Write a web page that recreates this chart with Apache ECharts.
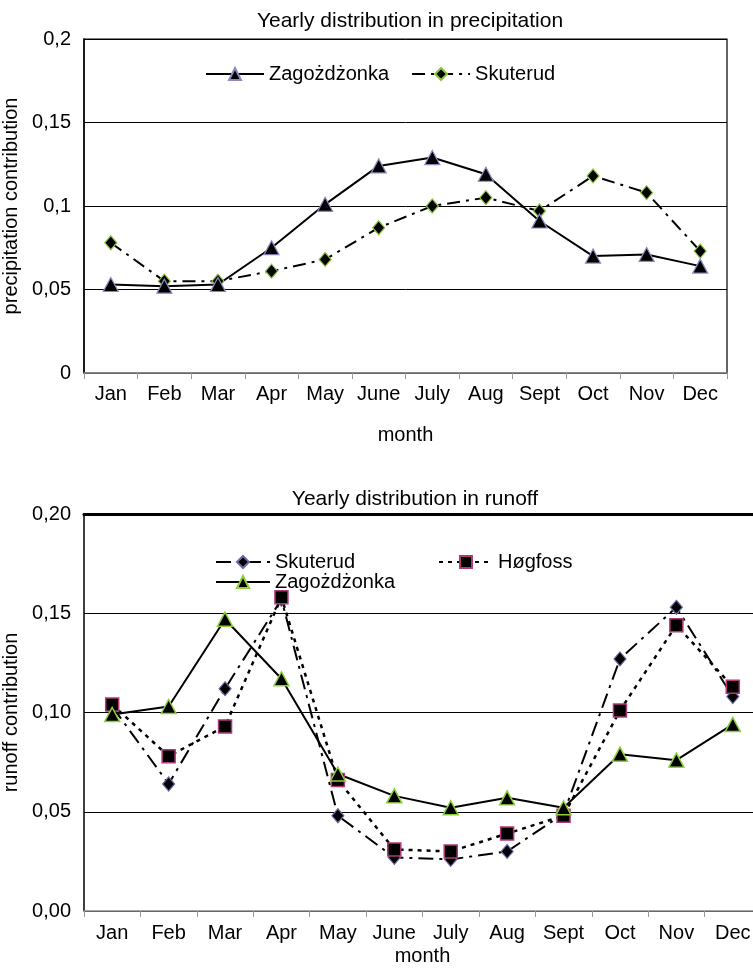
<!DOCTYPE html>
<html>
<head>
<meta charset="utf-8">
<script src="https://cdn.jsdelivr.net/npm/echarts@6/dist/echarts.min.js"></script>
<style>
  html, body { margin: 0; padding: 0; background: #fff; }
  #chart { width: 753px; height: 970px; }
</style>
</head>
<body>
<div id="chart"></div>
<script>
// Monthly shares of the yearly total
const months = ['Jan', 'Feb', 'Mar', 'Apr', 'May', 'June', 'July', 'Aug', 'Sept', 'Oct', 'Nov', 'Dec'];

// Precipitation contribution
const precipZagozdzonka = [0.053, 0.052, 0.053, 0.075, 0.101, 0.124, 0.129, 0.119, 0.091, 0.070, 0.071, 0.064];
const precipSkuterud    = [0.078, 0.055, 0.055, 0.061, 0.068, 0.087, 0.100, 0.105, 0.097, 0.118, 0.108, 0.073];

// Runoff contribution
const runoffSkuterud    = [0.103, 0.064, 0.112, 0.157, 0.048, 0.027, 0.026, 0.030, 0.049, 0.127, 0.153, 0.108];
const runoffHogfoss     = [0.104, 0.078, 0.093, 0.158, 0.066, 0.031, 0.030, 0.039, 0.048, 0.101, 0.144, 0.113];
const runoffZagozdzonka = [0.099, 0.103, 0.147, 0.117, 0.069, 0.058, 0.052, 0.057, 0.052, 0.079, 0.076, 0.094];

// Y tick labels (decimal comma)
const precipTicks = ['0', '0,05', '0,1', '0,15', '0,2'];
const runoffTicks = ['0,00', '0,05', '0,10', '0,15', '0,20'];

const FONT = 'Liberation Sans, Arial, sans-serif';
const FS = 20;
const txt = { fontFamily: FONT, fontSize: FS, color: '#000' };

function tickLabel(list) {
  return v => list[Math.round(v / 0.05)] ?? '';
}

const chart = echarts.init(document.getElementById('chart'), null, { renderer: 'canvas' });

const xBase = {
  type: 'category',
  data: months,
  boundaryGap: true,
  axisLine: { lineStyle: { color: '#8a8a8a', width: 1.5 } },
  axisTick: { show: true, alignWithLabel: false, length: 6, lineStyle: { color: '#9a9a9a' } },
  axisLabel: Object.assign({ margin: 11, interval: 0 }, txt),
  name: 'month',
  nameLocation: 'middle',
  nameTextStyle: txt
};

const yBase = {
  type: 'value',
  min: 0,
  max: 0.2,
  interval: 0.05,
  axisLine: { show: true, lineStyle: { color: '#000', width: 1.5 } },
  axisTick: { show: false },
  splitLine: { show: true, lineStyle: { color: '#000', width: 1 } },
  nameLocation: 'middle',
  nameRotate: 90,
  nameTextStyle: txt
};

const titleStyle = { fontFamily: FONT, fontSize: 21, fontWeight: 'normal', color: '#000' };

const option = {
  animation: false,
  backgroundColor: '#fff',
  title: [
    { text: 'Yearly distribution in precipitation', left: 405, top: 6, textAlign: 'center', textStyle: titleStyle },
    { text: 'Yearly distribution in runoff', left: 410, top: 484, textAlign: 'center', textStyle: titleStyle }
  ],
  legend: [
    { data: ['Zagożdżonka', 'Skuterud'], left: 200, top: 59, itemWidth: 58, itemHeight: 15, itemGap: 22,
      textStyle: txt, selectedMode: false },
    { data: ['Skuterud '], left: 210, top: 547, itemWidth: 54, itemHeight: 15, textStyle: txt, selectedMode: false },
    { data: ['Høgfoss'], left: 433, top: 547, itemWidth: 54, itemHeight: 15, textStyle: txt, selectedMode: false },
    { data: ['Zagożdżonka '], left: 210, top: 567, itemWidth: 54, itemHeight: 15, textStyle: txt, selectedMode: false }
  ],
  grid: [
    { left: 84, top: 39, width: 643, height: 334, outerBoundsMode: 'none', containLabel: false,
      show: true, borderColor: '#000', borderWidth: 1.2, backgroundColor: 'transparent' },
    { left: 84, top: 514, width: 677, height: 397, outerBoundsMode: 'none', containLabel: false }
  ],
  xAxis: [
    Object.assign({}, xBase, { gridIndex: 0, nameGap: 52 }),
    Object.assign({}, xBase, { gridIndex: 1, nameGap: 35, axisLabel: Object.assign({ margin: 12, interval: 0 }, txt) }),
    { type: 'category', data: months, gridIndex: 1, position: 'top',
      axisLine: { lineStyle: { color: '#000', width: 3 } },
      axisTick: { show: false }, axisLabel: { show: false } }
  ],
  yAxis: [
    Object.assign({}, yBase, { gridIndex: 0, name: 'precipitation contribution', nameGap: 60,
      axisLabel: Object.assign({ margin: 13, formatter: tickLabel(precipTicks) }, txt) }),
    Object.assign({}, yBase, { gridIndex: 1, name: 'runoff contribution', nameGap: 60,
      axisLabel: Object.assign({ margin: 13, formatter: tickLabel(runoffTicks) }, txt) })
  ],
  series: [
    { name: 'Skuterud', type: 'line', xAxisIndex: 0, yAxisIndex: 0, data: precipSkuterud,
      symbol: 'diamond', symbolSize: [12, 14],
      itemStyle: { color: '#000', borderColor: '#8cc63f', borderWidth: 1.2 },
      lineStyle: { color: '#000', width: 2, type: [13, 6, 3, 6] } },
    { name: 'Zagożdżonka', type: 'line', xAxisIndex: 0, yAxisIndex: 0, data: precipZagozdzonka,
      symbol: 'triangle', symbolSize: [15, 14],
      itemStyle: { color: '#000', borderColor: '#8a8ac0', borderWidth: 1.2 },
      lineStyle: { color: '#000', width: 2 } },

    { name: 'Skuterud ', type: 'line', xAxisIndex: 1, yAxisIndex: 1, data: runoffSkuterud,
      symbol: 'diamond', symbolSize: [12, 14],
      itemStyle: { color: '#000', borderColor: '#6a6aa8', borderWidth: 1.2 },
      lineStyle: { color: '#000', width: 2, type: [15, 6, 3, 6] } },
    { name: 'Høgfoss', type: 'line', xAxisIndex: 1, yAxisIndex: 1, data: runoffHogfoss,
      symbol: 'rect', symbolSize: 13,
      itemStyle: { color: '#000', borderColor: '#b03a78', borderWidth: 1.5 },
      lineStyle: { color: '#000', width: 2.5, type: [4, 5] } },
    { name: 'Zagożdżonka ', type: 'line', xAxisIndex: 1, yAxisIndex: 1, data: runoffZagozdzonka,
      symbol: 'triangle', symbolSize: [15, 14],
      itemStyle: { color: '#000', borderColor: '#8ccf3a', borderWidth: 1.5 },
      lineStyle: { color: '#000', width: 2 } }
  ]
};

chart.setOption(option);
</script>
</body>
</html>
